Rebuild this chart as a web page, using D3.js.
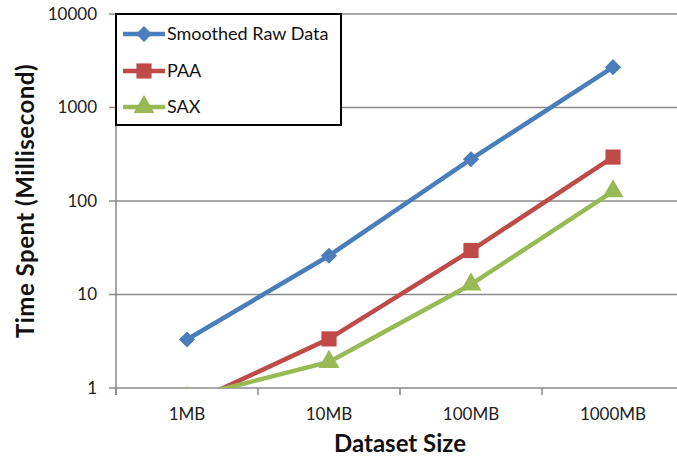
<!DOCTYPE html>
<html>
<head>
<meta charset="utf-8">
<script src="https://cdn.jsdelivr.net/npm/d3@7"></script>
<style>
  html, body { margin: 0; padding: 0; background: #fff; }
  svg { display: block; font-family: Lato, "Open Sans", sans-serif; }
</style>
</head>
<body>
<svg id="chart" width="677" height="464"></svg>
<script>
// Dataset sizes on the x axis
const categories = ["1MB", "10MB", "100MB", "1000MB"];
// Processing time (ms) per dataset size
const smoothedRaw = [3.3, 26, 280, 2700];
const paa = [0.66, 3.35, 29.5, 295];
const sax = [0.78, 1.9, 12.8, 127];
// Log-axis tick values
const yTicks = [1, 10, 100, 1000, 10000];

const seriesNames = ["Smoothed Raw Data", "PAA", "SAX"];
const seriesColors = ["#4A7EBB", "#BE4B48", "#98B954"];
const seriesValues = [smoothedRaw, paa, sax];

// Marker shapes: square rotated 45° for the diamond, plain square, triangle
const diamond = {
  draw(ctx, size) {
    const r = Math.sqrt(size / 2);
    ctx.moveTo(0, -r); ctx.lineTo(r, 0); ctx.lineTo(0, r); ctx.lineTo(-r, 0); ctx.closePath();
  }
};
const seriesShapes = [diamond, d3.symbolSquare, d3.symbolTriangle];
const symbolSizes = [130, 230, 190];

const svg = d3.select("#chart");
const plot = { left: 116, right: 684, top: 14, bottom: 388 };

const x = d3.scalePoint().domain(categories).range([plot.left, plot.right]).padding(0.5);
const xBand = d3.scaleBand().domain(categories).range([plot.left, plot.right]);
const y = d3.scaleLog().domain([1, 10000]).range([plot.bottom, plot.top]);

const gridColor = "#8a8a8a";

// Horizontal gridlines
svg.append("g").selectAll("line").data(yTicks).join("line")
  .attr("x1", plot.left - 7).attr("x2", plot.right)
  .attr("y1", d => y(d)).attr("y2", d => y(d))
  .attr("stroke", gridColor).attr("stroke-width", 1.5);

// Y axis line
svg.append("line")
  .attr("x1", plot.left).attr("x2", plot.left)
  .attr("y1", plot.top).attr("y2", plot.bottom + 7)
  .attr("stroke", gridColor).attr("stroke-width", 1.5);

// X axis category boundary ticks
const boundaries = categories.map(c => xBand(c)).concat([plot.right]);
svg.append("g").selectAll("line").data(boundaries).join("line")
  .attr("x1", d => d).attr("x2", d => d)
  .attr("y1", plot.bottom).attr("y2", plot.bottom + 7)
  .attr("stroke", gridColor).attr("stroke-width", 1.5);

// Y tick labels
svg.append("g").selectAll("text").data(yTicks).join("text")
  .attr("x", 97).attr("y", d => y(d))
  .attr("dy", "0.35em")
  .attr("text-anchor", "end")
  .attr("font-size", 17)
  .attr("fill", "#222")
  .text(d => d);

// X tick labels
svg.append("g").selectAll("text").data(categories).join("text")
  .attr("x", d => x(d)).attr("y", 414)
  .attr("dy", "0.35em")
  .attr("text-anchor", "middle")
  .attr("font-size", 17)
  .attr("fill", "#222")
  .text(d => d);

// Axis titles
svg.append("text")
  .attr("x", 400).attr("y", 452)
  .attr("text-anchor", "middle")
  .attr("font-size", 24).attr("font-weight", "bold")
  .attr("fill", "#111")
  .text("Dataset Size");

svg.append("text")
  .attr("transform", "translate(34,201) rotate(-90)")
  .attr("text-anchor", "middle")
  .attr("font-size", 24).attr("font-weight", "bold")
  .attr("letter-spacing", 0.5)
  .attr("fill", "#111")
  .text("Time Spent (Millisecond)");

// Clip series to the plot area
svg.append("clipPath").attr("id", "plotClip")
  .append("rect")
  .attr("x", plot.left).attr("y", plot.top - 20)
  .attr("width", plot.right - plot.left + 20)
  .attr("height", plot.bottom - plot.top + 20);

const seriesG = svg.append("g").attr("clip-path", "url(#plotClip)");
const line = d3.line().x((d, i) => x(categories[i])).y(d => y(d));

seriesValues.forEach((vals, s) => {
  seriesG.append("path")
    .datum(vals)
    .attr("d", line)
    .attr("fill", "none")
    .attr("stroke", seriesColors[s])
    .attr("stroke-width", 4.5)
    .attr("stroke-linejoin", "round");
});

seriesValues.forEach((vals, s) => {
  seriesG.append("g").selectAll("path").data(vals).join("path")
    .attr("transform", (d, i) => `translate(${x(categories[i])},${y(d)})`)
    .attr("d", d3.symbol().type(seriesShapes[s]).size(symbolSizes[s]))
    .attr("fill", seriesColors[s]);
});

// Legend
const legend = svg.append("g");
legend.append("rect")
  .attr("x", 116).attr("y", 14)
  .attr("width", 225).attr("height", 111)
  .attr("fill", "#fff")
  .attr("stroke", "#000").attr("stroke-width", 2);

const legendY = [34, 71, 107];
seriesNames.forEach((name, s) => {
  const gy = legendY[s];
  legend.append("line")
    .attr("x1", 123).attr("x2", 165)
    .attr("y1", gy).attr("y2", gy)
    .attr("stroke", seriesColors[s]).attr("stroke-width", 4.5);
  legend.append("path")
    .attr("transform", `translate(144,${gy})`)
    .attr("d", d3.symbol().type(seriesShapes[s]).size(symbolSizes[s]))
    .attr("fill", seriesColors[s]);
  legend.append("text")
    .attr("x", 167).attr("y", gy)
    .attr("dy", "0.35em")
    .attr("font-size", 18)
    .attr("fill", "#111")
    .text(name);
});
</script>
</body>
</html>
